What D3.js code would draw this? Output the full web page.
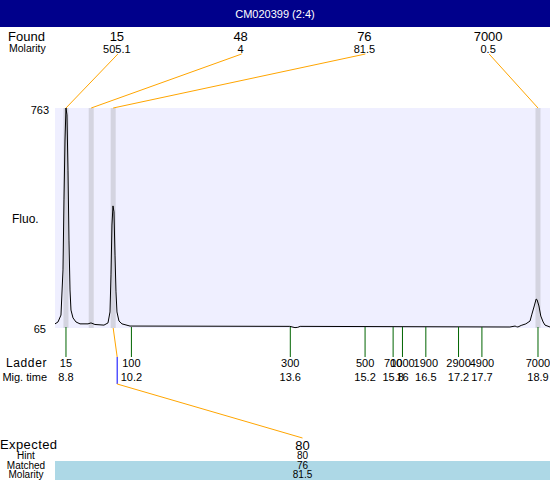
<!DOCTYPE html>
<html>
<head>
<meta charset="utf-8">
<script src="https://cdnjs.cloudflare.com/ajax/libs/d3/7.8.5/d3.min.js"></script>
<style>
  body { margin: 0; background: #fff; }
  svg { display: block; font-family: Arial, "Liberation Sans", sans-serif; }
</style>
</head>
<body>
<div id="chart"></div>
<script>
// sample title
const title = "CM020399 (2:4)";

// ladder peaks: size label and migration time (s)
const ladderSizes = [15, 100, 300, 500, 700, 1000, 1900, 2900, 4900, 7000];
const ladderTimes = [8.8, 10.2, 13.6, 15.2, 15.8, 16, 16.5, 17.2, 17.7, 18.9];

// found peaks
const foundSizes = [15, 48, 76, 7000];
const foundMolarity = ["505.1", "4", "81.5", "0.5"];
const foundTimes = [8.8, 9.34, 9.81, 18.9];

// expected fragment
const expectedSizes = [80];
const expectedHint = [80];
const expectedMatched = [76];
const expectedMolarity = ["81.5"];
const expectedTimes = [9.81];

// y axis extremes
const fluoTicks = [65, 763];

// electropherogram trace
const traceTime = [8.565, 8.629, 8.693, 8.736, 8.757, 8.779, 8.8, 8.821, 8.843, 8.864,
  8.886, 8.907, 8.95, 9.014, 9.1, 9.271, 9.335, 9.42, 9.613, 9.699, 9.742, 9.763,
  9.784, 9.806, 9.827, 9.849, 9.87, 9.891, 9.934, 9.998, 10.17, 13.59, 13.7, 13.76,
  13.81, 18.3, 18.41, 18.44, 18.47, 18.54, 18.64, 18.73, 18.77, 18.82, 18.86, 18.88,
  18.92, 18.96, 19.01, 19.05, 19.157];
const traceFluo = [75, 81, 103, 247, 470, 661, 763, 741, 565, 342,
  183, 119, 94, 81, 75, 75, 78, 73, 71, 78, 113, 231,
  390, 451, 432, 294, 177, 113, 84, 75, 68, 67, 63, 64,
  67, 65, 68, 66, 65, 70, 75, 84, 106, 132, 154, 152,
  132, 100, 81, 71, 65];

const W = 550, H = 480;
const plotL = 55, plotR = 550, plotT = 108, plotB = 328;

const x = d3.scaleLinear().domain([8.565, 19.157]).range([plotL, plotR]);
const y = d3.scaleLinear().domain(fluoTicks).range([327, plotT]);

// found / expected labels spread evenly across the plot width
const foundPos = d3.scaleBand().domain(d3.range(foundSizes.length)).range([plotL, plotR]);
const expPos = d3.scaleBand().domain(d3.range(expectedSizes.length)).range([plotL, plotR]);

const svg = d3.select("#chart").append("svg")
  .attr("width", W).attr("height", H);

// header
svg.append("rect").attr("width", W).attr("height", 27).attr("fill", "#00008b");
svg.append("text").attr("x", W / 2).attr("y", 18)
  .attr("text-anchor", "middle").attr("fill", "#fff").attr("font-size", 11)
  .text(title);

// found row
svg.append("text").attr("x", 8).attr("y", 41).attr("font-size", 13).text("Found");
svg.append("text").attr("x", 9).attr("y", 52).attr("font-size", 10.5).text("Molarity");

const fx = i => foundPos(i) + foundPos.bandwidth() / 2;
svg.selectAll(".found").data(foundSizes).join("text")
  .attr("x", (d, i) => fx(i)).attr("y", 41)
  .attr("text-anchor", "middle").attr("font-size", 13).text(d => d);
svg.selectAll(".fmol").data(foundMolarity).join("text")
  .attr("x", (d, i) => fx(i)).attr("y", 53)
  .attr("text-anchor", "middle").attr("font-size", 11).text(d => d);

// plot background
svg.append("rect").attr("x", plotL).attr("y", plotT)
  .attr("width", plotR - plotL).attr("height", plotB - plotT).attr("fill", "#efefff");

// found peak bands
svg.selectAll(".band").data(foundTimes).join("rect")
  .attr("x", d => x(d) - 2.5).attr("y", plotT)
  .attr("width", 5).attr("height", plotB - plotT).attr("fill", "#d4d4e0");

// orange connectors from found labels to peaks
svg.selectAll(".conn").data(foundTimes).join("line")
  .attr("x1", (d, i) => fx(i) + 1).attr("y1", 54)
  .attr("x2", d => x(d)).attr("y2", plotT)
  .attr("stroke", "#ffa500").attr("stroke-width", 1);

// y labels
svg.append("text").attr("x", 12).attr("y", 223).attr("font-size", 12).text("Fluo.");
svg.append("text").attr("x", 49).attr("y", y(fluoTicks[1]) + 6)
  .attr("text-anchor", "end").attr("font-size", 11).text(fluoTicks[1]);
svg.append("text").attr("x", 46).attr("y", y(fluoTicks[0]) + 6)
  .attr("text-anchor", "end").attr("font-size", 11).text(fluoTicks[0]);

// trace
const line = d3.line().x(d => x(d[0])).y(d => y(d[1]));
svg.append("path").datum(d3.zip(traceTime, traceFluo))
  .attr("d", line).attr("fill", "none").attr("stroke", "#000").attr("stroke-width", 1);

// ladder ticks
svg.selectAll(".ltick").data(ladderTimes).join("line")
  .attr("x1", d => x(d)).attr("x2", d => x(d))
  .attr("y1", 327).attr("y2", 357)
  .attr("stroke", "#006400").attr("stroke-width", 1);
svg.selectAll(".lsize").data(ladderSizes).join("text")
  .attr("x", (d, i) => x(ladderTimes[i])).attr("y", 367)
  .attr("text-anchor", "middle").attr("font-size", 11).text(d => d);
svg.selectAll(".ltime").data(ladderTimes).join("text")
  .attr("x", d => x(d)).attr("y", 381)
  .attr("text-anchor", "middle").attr("font-size", 11).text(d => d);
svg.append("text").attr("x", 47).attr("y", 367).attr("text-anchor", "end")
  .attr("font-size", 12).attr("letter-spacing", 0.6).text("Ladder");
svg.append("text").attr("x", 47).attr("y", 381).attr("text-anchor", "end")
  .attr("font-size", 11).text("Mig. time");

// expected connectors
const ex = i => expPos(i) + expPos.bandwidth() / 2;
expectedTimes.forEach((t, i) => {
  const px = x(t), bx = px + 4;
  const g = svg.append("g").attr("fill", "none");
  g.append("line").attr("x1", px).attr("y1", 328).attr("x2", bx).attr("y2", 357)
    .attr("stroke", "#ffa500");
  g.append("line").attr("x1", bx).attr("y1", 357).attr("x2", bx).attr("y2", 384)
    .attr("stroke", "#0000ff");
  g.append("line").attr("x1", bx).attr("y1", 384).attr("x2", ex(i)).attr("y2", 438)
    .attr("stroke", "#ffa500");
});

// expected block
svg.append("rect").attr("x", plotL).attr("y", 461)
  .attr("width", plotR - plotL).attr("height", H - 461).attr("fill", "#add8e6");
svg.append("text").attr("x", 0).attr("y", 449).attr("font-size", 13)
  .attr("letter-spacing", 0.4).text("Expected");
const rowY = [459, 469, 478];
[["Hint", rowY[0]], ["Matched", rowY[1]], ["Molarity", rowY[2]]].forEach(([t, yy]) => {
  svg.append("text").attr("x", 26).attr("y", yy).attr("text-anchor", "middle")
    .attr("font-size", 10).text(t);
});
svg.selectAll(".esize").data(expectedSizes).join("text")
  .attr("x", (d, i) => ex(i)).attr("y", 450)
  .attr("text-anchor", "middle").attr("font-size", 13).text(d => d);
svg.selectAll(".ehint").data(expectedHint).join("text")
  .attr("x", (d, i) => ex(i)).attr("y", rowY[0])
  .attr("text-anchor", "middle").attr("font-size", 10).text(d => d);
svg.selectAll(".ematch").data(expectedMatched).join("text")
  .attr("x", (d, i) => ex(i)).attr("y", rowY[1])
  .attr("text-anchor", "middle").attr("font-size", 10).text(d => d);
svg.selectAll(".emol").data(expectedMolarity).join("text")
  .attr("x", (d, i) => ex(i)).attr("y", rowY[2])
  .attr("text-anchor", "middle").attr("font-size", 10).text(d => d);
</script>
</body>
</html>
